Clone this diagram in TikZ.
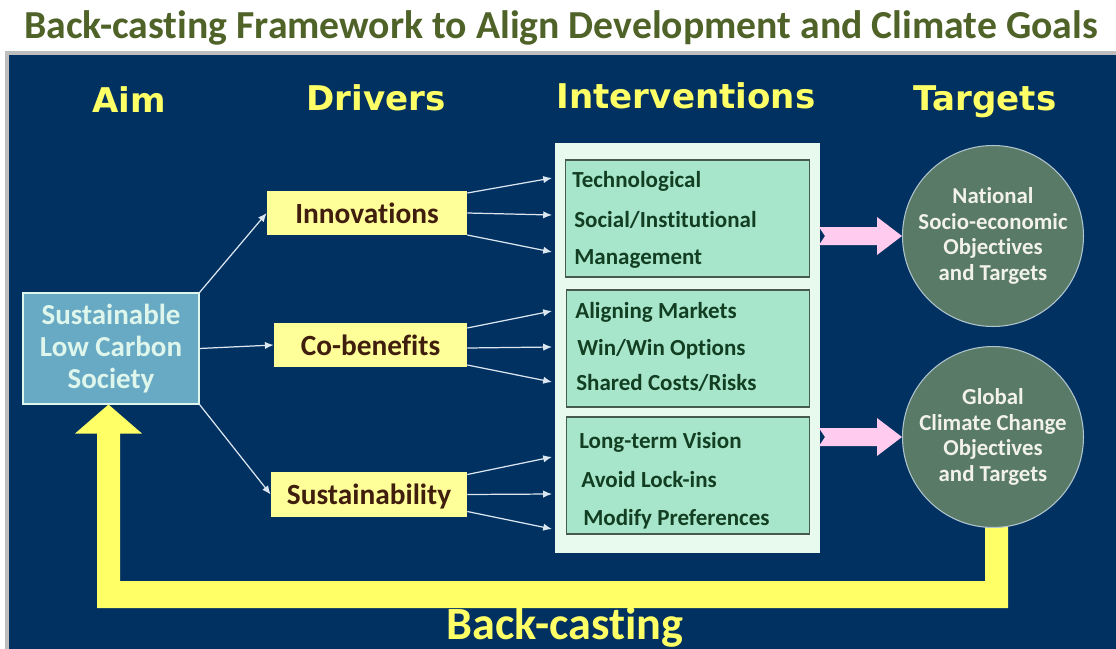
\documentclass[tikz,border=0pt]{standalone}
\usepackage{fontspec}
\setmainfont{Carlito}[Ligatures=NoCommon]
\newfontfamily\headfont{DejaVu Sans}
\usetikzlibrary{arrows.meta,backgrounds}
\definecolor{navy}{RGB}{1,49,97}
\definecolor{framegray}{RGB}{190,190,190}
\definecolor{olive}{RGB}{79,98,40}
\definecolor{hiyellow}{RGB}{255,255,102}
\definecolor{drvfill}{RGB}{255,255,153}
\definecolor{drvtext}{RGB}{64,30,14}
\definecolor{aimfill}{RGB}{104,170,196}
\definecolor{aimtext}{RGB}{222,246,236}
\definecolor{intback}{RGB}{232,250,238}
\definecolor{intfill}{RGB}{168,230,204}
\definecolor{intline}{RGB}{70,90,80}
\definecolor{inttext}{RGB}{18,62,34}
\definecolor{tgtfill}{RGB}{88,122,102}
\definecolor{tgtline}{RGB}{176,196,206}
\definecolor{tgttext}{RGB}{242,242,232}
\definecolor{pinkarrow}{RGB}{255,204,240}
\definecolor{linkline}{RGB}{220,230,240}
\tikzset{
  header/.style={font=\headfont\bfseries\fontsize{19.4}{23}\selectfont,
    text=hiyellow, anchor=base, inner sep=0pt},
  aimbox/.style={fill=aimfill, draw=aimtext, line width=0.6pt,
    minimum width=3.52cm, minimum height=2.22cm, align=center,
    text=aimtext, font=\bfseries\fontsize{16.5}{18.4}\selectfont},
  driver/.style={fill=drvfill, text=drvtext, text depth=0pt,
    font=\bfseries\fontsize{16.7}{20}\selectfont,
    minimum height=0.9cm, inner sep=0pt},
  groupbox/.style={fill=intfill, draw=intline, line width=0.6pt,
    minimum width=4.87cm, minimum height=2.34cm},
  item/.style={anchor=base west, inner sep=0pt, text=inttext,
    font=\bfseries\fontsize{13.1}{15}\selectfont},
  target/.style={circle, fill=tgtfill, draw=tgtline, line width=0.6pt,
    minimum size=3.62cm, inner sep=0pt, align=center, text=tgttext,
    font=\bfseries\fontsize{13}{14.7}\selectfont},
  link/.style={draw=linkline, line width=0.7pt, -{Latex[length=5pt,width=4.2pt]}}
}
\begin{document}
\begin{tikzpicture}[x=0.02cm, y=-0.02cm]
  \useasboundingbox (0,0) rectangle (1116,649);
  \node[anchor=base, inner sep=0pt, text=olive,
        font=\bfseries\fontsize{22.6}{27}\selectfont] (title) at (561,38)
        {Back-casting Framework to Align Development and Climate Goals};

  % column headings
  \node[header] (haim) at (129,112) {Aim};
  \node[header] (hdrv) at (376,110) {Drivers};
  \node[header] (hint) at (686,108) {Interventions};
  \node[header] (htgt) at (985,110) {Targets};

  % aim
  \node[aimbox] (aim) at (111,348.5) {Sustainable\\Low Carbon\\Society};

  % drivers
  \node[driver, minimum width=4cm] (inno) at (367,213) {Innovations};
  \node[driver, minimum width=3.86cm, minimum height=0.88cm] (cobe) at (370.5,345) {Co-benefits};
  \node[driver, minimum width=3.92cm] (sust) at (369,494.5) {Sustainability};

  \draw[link] (aim.north east) -- (inno.west);
  \draw[link] (aim.east) -- (cobe.west);
  \draw[link] (aim.south east) -- (sust.west);

  % interventions
  \node[fill=intback, minimum width=5.3cm, minimum height=8.2cm, inner sep=0pt] (ibox) at (687.5,348) {};
  \node[groupbox] (grpa) at (687.5,218.5) {};
  \node[groupbox] (grpb) at (688,348.5) {};
  \node[groupbox] (grpc) at (688,475.5) {};
  \foreach \nm/\x/\y/\txt in {tech/572/187/Technological, soci/574/227/{Social/Institutional},
      mana/574/264/Management, alig/575/318/Aligning Markets, winw/577/355/{Win/Win Options},
      shar/576/390/{Shared Costs/Risks}, long/579/448/Long-term Vision,
      avoi/581/487/Avoid Lock-ins, modi/583/525/Modify Preferences}
    \node[item] (\nm) at (\x,\y) {\txt};

  \foreach \nm/\yy in {tech/178, soci/215, mana/252, alig/311, winw/347,
      shar/382, long/457, avoi/494, modi/529}
    \coordinate (\nm-in) at (552,\yy);
  \foreach \src/\dy/\dst in {inno/-20/tech, inno/0/soci, inno/22/mana,
      cobe/-17/alig, cobe/3/winw, cobe/20/shar,
      sust/-20/long, sust/0/avoi, sust/17/modi}
    \draw[link] ([shift={(0,\dy)}]\src.east) -- (\dst-in);

  % targets
  \node[target] (natl) at (993,236) {National\\Socio-economic\\Objectives\\and Targets};
  \node[target] (glob) at (993,437) {Global\\Climate Change\\Objectives\\and Targets};

  % notched arrows to the targets
  \foreach \tgt in {natl, glob}
    \fill[pinkarrow] ([shift={(-83,-9)}]\tgt.west) -- ([shift={(-25,-9)}]\tgt.west)
      -- ([shift={(-25,-19)}]\tgt.west) -- (\tgt.west)
      -- ([shift={(-25,19)}]\tgt.west) -- ([shift={(-25,9)}]\tgt.west)
      -- ([shift={(-83,9)}]\tgt.west) -- ([shift={(-77,0)}]\tgt.west) -- cycle;

  \node[anchor=base, inner sep=0pt, text=hiyellow,
        font=\bfseries\fontsize{26.3}{30}\selectfont] (bcast) at (565,639) {Back-casting};

  \begin{scope}[on background layer]
    % slide panel
    \fill[framegray] (5,51) rectangle (1116,649);
    \fill[navy] (9,55) rectangle (1116,649);
    % back-casting loop
    \fill[hiyellow]
      ([shift={(-8,-30)}]glob.south) -- ([shift={(15,-30)}]glob.south)
      -- ([shift={(15,80)}]glob.south) -| ([shift={(-14,29)}]aim.south)
      -- ([shift={(-36,29)}]aim.south) -- ([shift={(-2.5,0)}]aim.south)
      -- ([shift={(31,29)}]aim.south) -- ([shift={(9,29)}]aim.south)
      |- ([shift={(-8,53)}]glob.south) -- cycle;
  \end{scope}
\end{tikzpicture}
\end{document}
